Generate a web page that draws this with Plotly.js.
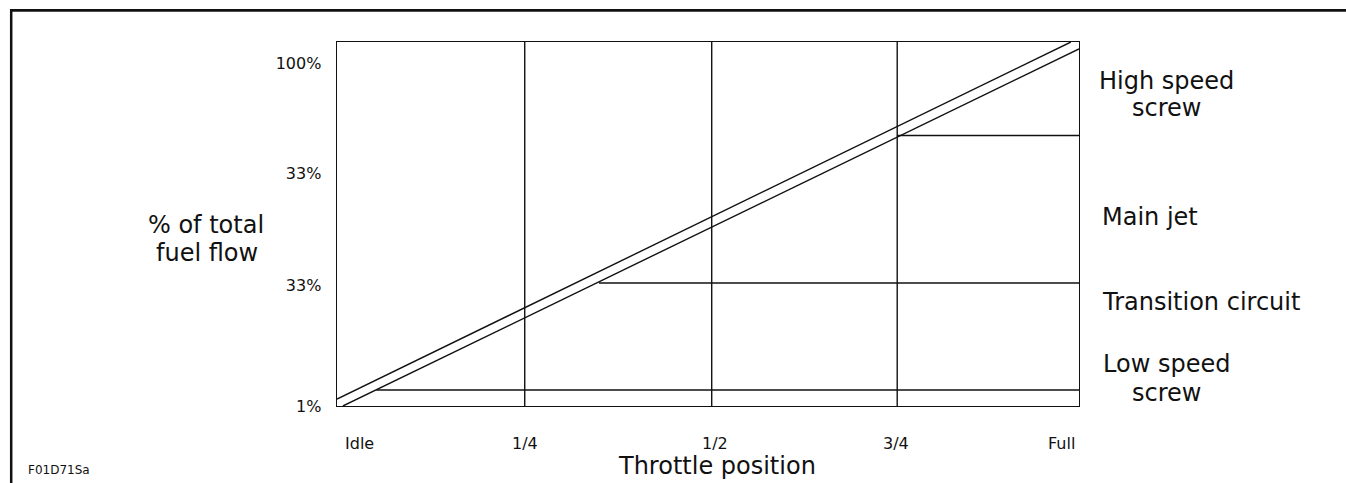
<!DOCTYPE html>
<html>
<head>
<meta charset="utf-8">
<script src="https://cdn.plot.ly/plotly-3.0.1.min.js"></script>
<style>html,body{margin:0;padding:0;background:#fff;}#chart{width:1346px;height:483px;}</style>
</head>
<body>
<div id="chart"></div>
<script>
// ---- data (throttle fraction 0..1 on x, relative fuel-flow scale 0..1 on y) ----
const xTickVals = [0, 0.253, 0.505, 0.755, 1];
const xTickText = ['Idle', '1/4', '1/2', '3/4', 'Full'];
const yTickVals = [0, 0.332, 0.64, 0.94];
const yTickText = ['1%', '33%', '33%', '100%'];
const gridX = [0.253, 0.505, 0.755];
const upperLineX = [0, 0.989];
const upperLineY = [0.019, 1.0];
const lowerLineX = [0.008, 1];
const lowerLineY = [0, 0.981];
const circuitStartX = [0.053, 0.353, 0.755];
const circuitLevelY = [0.044, 0.338, 0.743];
const circuitLabels = ['Low speed\nscrew', 'Transition circuit', 'Main jet', 'High speed\nscrew'];
const xTitle = 'Throttle position';
const yTitle = '% of total\nfuel flow';
const figId = 'F01D71Sa';

// ---- geometry ----
const W = 1346, H = 483, L = 337, R = 1079, T = 42, B = 406;
const px = x => (x - L) / (R - L);
const py = y => (B - y) / (B - T);
const FONT = 'DejaVu Sans, Liberation Sans, Arial, sans-serif';
const INK = '#111';

const traces = [];
const lineStyle = {color: INK, width: 1.4};
gridX.forEach(x => traces.push({x: [x, x], y: [0, 1], mode: 'lines', line: lineStyle, hoverinfo: 'skip'}));
traces.push({x: upperLineX, y: upperLineY, mode: 'lines', line: lineStyle, hoverinfo: 'skip'});
traces.push({x: lowerLineX, y: lowerLineY, mode: 'lines', line: lineStyle, hoverinfo: 'skip'});
circuitStartX.forEach((x0, i) => traces.push({x: [x0, 1], y: [circuitLevelY[i], circuitLevelY[i]], mode: 'lines', line: lineStyle, hoverinfo: 'skip'}));

const ann = [];
function addText(text, x, y, size, xanchor) {
  ann.push({text: text, xref: 'paper', yref: 'paper', x: px(x), y: py(y), xanchor: xanchor || 'center', yanchor: 'middle',
    showarrow: false, font: {family: FONT, size: size, color: INK}});
}
// x tick labels
const xTickPx = [359.5, 524.5, 714.5, 896, 1061.5];
xTickText.forEach((t, i) => addText(t, xTickPx[i], 443.5, 16));
// axis titles
addText(xTitle, 717, 466, 24);
const yT = yTitle.split('\n');
addText(yT[0], 205.5, 225, 24);
addText(yT[1], 207, 253, 24);
// circuit labels
const lowL = circuitLabels[0].split('\n');
addText(lowL[0], 1166.5, 364, 24);
addText(lowL[1], 1166, 393, 24);
addText(circuitLabels[1], 1100, 301.5, 24, 'left');
addText(circuitLabels[2], 1100, 216.5, 24, 'left');
const highL = circuitLabels[3].split('\n');
addText(highL[0], 1166.5, 81, 24);
addText(highL[1], 1166, 108, 24);
// figure id
addText(figId, 26, 470, 12, 'left');

const layout = {
  width: W, height: H,
  margin: {l: L, r: W - R, t: T, b: H - B, pad: 0},
  paper_bgcolor: '#fff', plot_bgcolor: '#fff',
  showlegend: false,
  font: {family: FONT, color: INK},
  xaxis: {range: [0, 1], showgrid: false, zeroline: false, showticklabels: false, ticks: '',
    showline: true, mirror: true, linecolor: INK, linewidth: 1.4, fixedrange: true},
  yaxis: {range: [0, 1], showgrid: false, zeroline: false, tickvals: yTickVals, ticktext: yTickText,
    ticks: '', ticklabelstandoff: 11, tickfont: {family: FONT, size: 16, color: INK},
    showline: true, mirror: true, linecolor: INK, linewidth: 1.4, fixedrange: true},
  annotations: ann,
  shapes: [
    {type: 'line', xref: 'paper', yref: 'paper', x0: px(10), x1: px(1346), y0: py(10.3), y1: py(10.3), line: {color: INK, width: 2.7}},
    {type: 'line', xref: 'paper', yref: 'paper', x0: px(11.2), x1: px(11.2), y0: py(9), y1: py(483), line: {color: INK, width: 2.5}}
  ]
};
Plotly.newPlot('chart', traces, layout, {staticPlot: true, displayModeBar: false});
</script>
</body>
</html>
